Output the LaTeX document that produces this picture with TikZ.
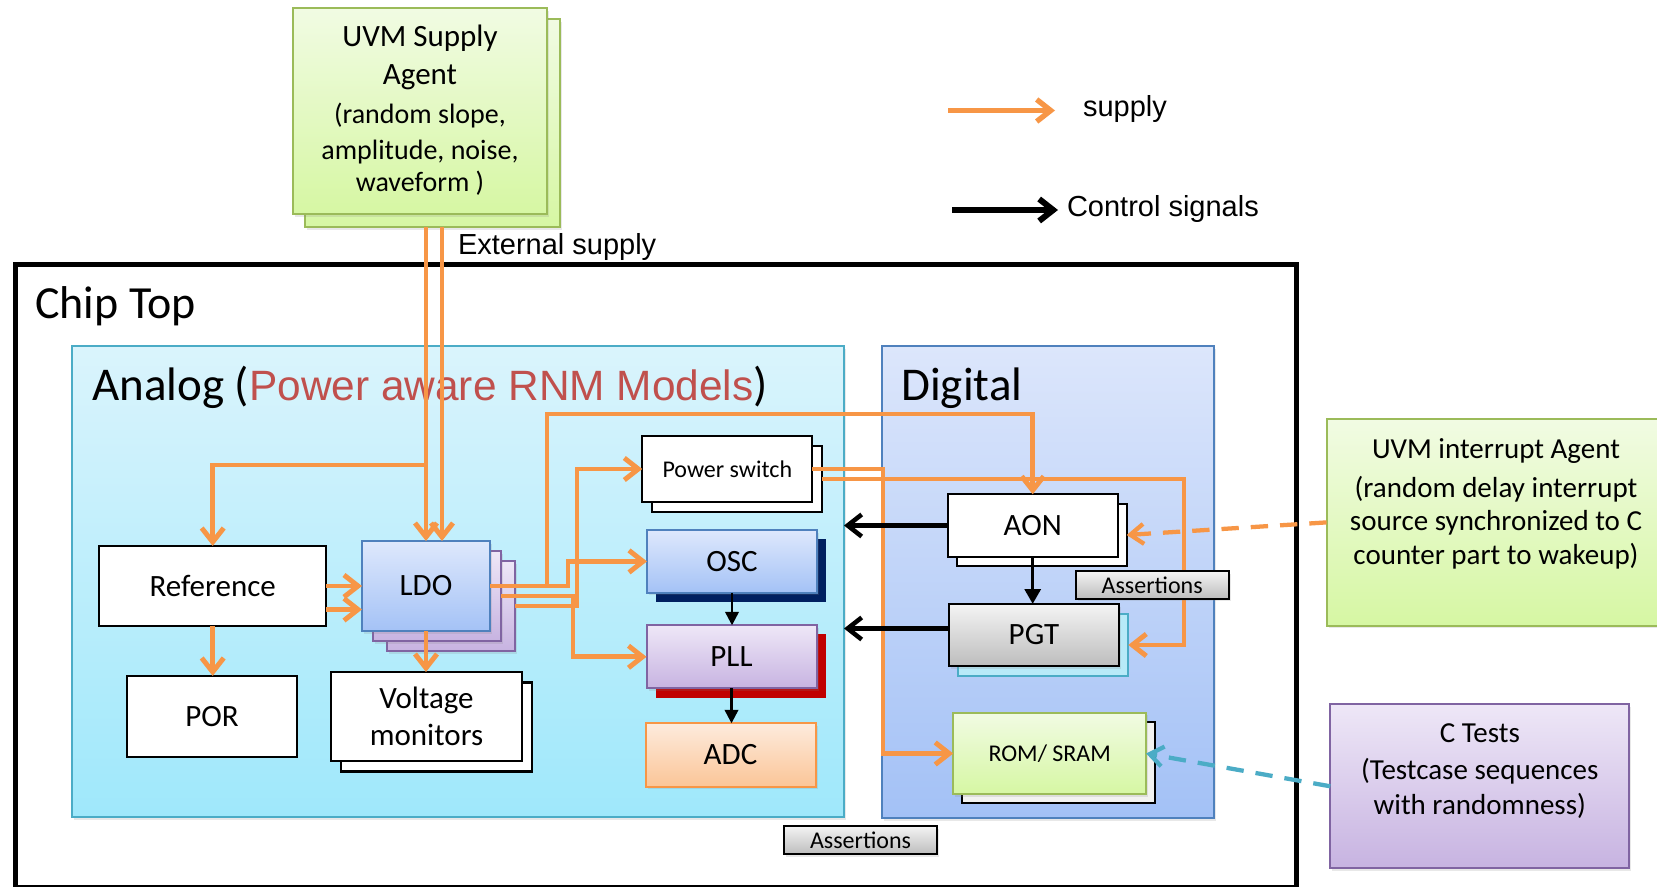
\documentclass[tikz,border=0pt]{standalone}
\usepackage{fontspec}
\setmainfont{Carlito}
\newfontfamily\arialfont{Liberation Sans}
\usetikzlibrary{arrows.meta,calc,shadows}

\definecolor{sorange}{HTML}{F79646}
\definecolor{rnmred}{HTML}{C0504D}
\definecolor{tealline}{HTML}{4BACC6}
\definecolor{blueline}{HTML}{4F81BD}
\definecolor{purpline}{HTML}{8064A2}
\definecolor{greenline}{HTML}{9BBB59}
\definecolor{anatop}{HTML}{DAF4FC}
\definecolor{anabot}{HTML}{9FE8FB}
\definecolor{digtop}{HTML}{DCE6FB}
\definecolor{digbot}{HTML}{A3C1F6}
\definecolor{bluetop}{HTML}{DEE8FC}
\definecolor{bluebot}{HTML}{A4C2F6}
\definecolor{lavtop}{HTML}{EEE7F7}
\definecolor{lavbot}{HTML}{C7B3E1}
\definecolor{peachtop}{HTML}{FDEBDD}
\definecolor{peachbot}{HTML}{FBC597}
\definecolor{greentop}{HTML}{F1FBE3}
\definecolor{greenbot}{HTML}{D6F7A3}
\definecolor{graytop}{HTML}{F4F4F4}
\definecolor{graybot}{HTML}{BDBDBD}
\definecolor{navyshadow}{HTML}{002060}
\definecolor{redshadow}{HTML}{C00000}
\definecolor{pgtback}{HTML}{B8EAF8}
\definecolor{romback}{HTML}{F2F2F0}

\tikzset{
  px/.style 2 args={minimum width=#1*0.75pt, minimum height=#2*0.75pt},
  soft/.style={drop shadow={opacity=0.18, shadow xshift=1.5pt, shadow yshift=-2pt}},
  blk/.style={draw, inner sep=0pt, outer sep=0pt, line width=1.6pt, align=center,
              font=\fontsize{23.25}{28}\selectfont},
  smallfont/.style={font=\fontsize{18}{22}\selectfont},
  wbox/.style={blk, fill=white},
  bluebox/.style={blk, draw=blueline, line width=1.5pt, top color=bluetop, bottom color=bluebot, soft},
  lavbox/.style={blk, draw=purpline, line width=1.5pt, top color=lavtop, bottom color=lavbot, soft},
  peachbox/.style={blk, draw=sorange, line width=1.5pt, top color=peachtop, bottom color=peachbot, soft},
  greenbox/.style={blk, draw=greenline, line width=1.5pt, top color=greentop, bottom color=greenbot, soft},
  graybox/.style={blk, draw=black, top color=graytop, bottom color=graybot, soft},
  shadowbox/.style={inner sep=0pt, outer sep=0pt},
  txt/.style={inner sep=0pt, outer sep=0pt, anchor=base},
  agtitle/.style={txt, font=\fontsize{23.25}{28}\selectfont},
  agbody/.style={txt, font=\fontsize{21}{26}\selectfont},
  agtext/.style={txt, font=\fontsize{21.75}{26}\selectfont},
  arialtext/.style={inner sep=0pt, outer sep=0pt, anchor=base west,
              font=\arialfont\fontsize{21.75}{26}\selectfont},
  supplyarrow/.style={draw=sorange, line width=3.7pt, line join=miter,
              -{Straight Barb[length=10.5pt,width=16.5pt]}},
  ctrlarrow/.style={draw=black, line width=3.4pt,
              -{Straight Barb[length=10.5pt,width=16.5pt]}},
  thinctrl/.style={draw=black, line width=1.8pt, -{Triangle[length=10pt,width=10pt]}},
  irqarrow/.style={draw=sorange, line width=3.2pt, dash pattern=on 13pt off 9pt,
              -{Straight Barb[length=10pt,width=15pt]}},
  testarrow/.style={draw=tealline, line width=3.2pt, dash pattern=on 13pt off 9pt,
              -{Straight Barb[length=10pt,width=15pt]}},
}

\begin{document}
\begin{tikzpicture}[x=0.75pt,y=-0.75pt]
\useasboundingbox (0,0) rectangle (1657,887);
\clip (0,0) rectangle (1657,887);
\fill[white] (0,0) rectangle (1657,887);

% ---------- UVM supply agent ----------
\node[greenbox, px={255}{208}] (supb) at (432,123) {};
\node[greenbox, px={254}{206}] (sup) at (420,111) {};
\node[agtitle] (supT1) at (420,46.7) {UVM Supply};
\node[agtitle] (supT2) at (420,84.3) {Agent};
\node[agbody] (supT3) at (420,124) {(random slope,};
\node[agbody] (supT4) at (420,159.3) {amplitude, noise,};
\node[agbody] (supT5) at (420,191.7) {waveform )};
\node[arialtext] (extlbl) at (458,255) {External supply};

% ---------- legend ----------
\coordinate (lgsA) at (948,110.5);
\coordinate (lgsB) at (1055,110.5);
\draw[supplyarrow, line width=4pt] (lgsA) -- (lgsB);
\node[arialtext] (lgsT) at (1083,116.7) {supply};
\coordinate (lgcA) at (952,210);
\coordinate (lgcB) at (1058,210);
\draw[ctrlarrow, line width=4.5pt] (lgcA) -- (lgcB);
\node[arialtext] (lgcT) at (1067,216.7) {Control signals};

% ---------- chip frame and domains ----------
\node[draw, line width=3.75pt, inner sep=0pt, outer sep=0pt, px={1280.5}{622.5}] (chip) at (655.75,576.25) {};
\node[inner sep=0pt, anchor=base west, font=\fontsize{34.5}{40}\selectfont] (chipT) at (35,318.3) {Chip Top};

\node[draw=tealline, line width=1.6pt, top color=anatop, bottom color=anabot, inner sep=0pt, outer sep=0pt,
      px={772}{471}, soft] (analog) at (458,581.5) {};
\node[draw=blueline, line width=1.6pt, top color=digtop, bottom color=digbot, inner sep=0pt, outer sep=0pt,
      px={332}{472}, soft] (digital) at (1048,582) {};
\node[inner sep=0pt, anchor=base west, font=\fontsize{35.25}{40}\selectfont] (anaT) at (92,401)
  {Analog (\textcolor{rnmred}{\arialfont\fontsize{31.8}{36}\selectfont Power aware RNM Models})};
\node[inner sep=0pt, anchor=base west, font=\fontsize{35.25}{40}\selectfont] (digT) at (901,401) {Digital};

% ---------- analog blocks ----------
\node[wbox, px={227}{80}] (ref) at (212.7,586) {Reference};
\node[wbox, px={170}{80.7}] (por) at (212,716.3) {POR};
\node[lavbox, px={128}{90}] (ldob2) at (451,606) {};
\node[lavbox, px={128}{90}] (ldob1) at (437,596) {};
\node[bluebox, px={128}{90}] (ldo) at (426,586) {LDO};
\node[wbox, px={191}{89}] (vmb) at (436.5,727) {};
\node[wbox, px={191}{89}] (vm) at (426.5,716.5) {Voltage\\monitors};
\node[wbox, px={170}{66.6}] (psb) at (736.7,479) {};
\node[wbox, smallfont, px={170}{66.6}] (ps) at (727.3,469) {Power switch};
\node[shadowbox, fill=navyshadow, px={170}{63}] (oscs) at (741,570.5) {};
\node[bluebox, px={170}{62.7}] (osc) at (732,561.4) {OSC};
\node[shadowbox, fill=redshadow, px={170}{63}] (plls) at (740.5,666) {};
\node[lavbox, px={170}{63}] (pll) at (731.5,656.8) {PLL};
\node[peachbox, px={170}{63.4}] (adc) at (730.5,755) {ADC};

% ---------- digital blocks ----------
\node[wbox, px={170}{62.4}] (aonb) at (1041.7,535) {};
\node[wbox, px={170}{62.4}] (aon) at (1032.7,525.5) {AON};
\node[blk, draw=tealline, fill=pgtback, px={170}{62.3}] (pgtb) at (1043.3,645) {};
\node[graybox, px={170}{62.3}] (pgt) at (1034,635) {PGT};
\node[blk, fill=romback, px={193}{81.6}] (romb) at (1058.7,762.5) {};
\node[greenbox, smallfont, px={193}{81.6}] (rom) at (1049.7,753.5) {ROM/ SRAM};

% ---------- testbench agents ----------
\node[greenbox, px={339.4}{206.7}] (irq) at (1496.3,522.4) {};
\node[agtext] (irqT1) at (1496,458.3) {UVM interrupt Agent};
\node[agtext] (irqT2) at (1496,497.7) {(random delay interrupt};
\node[agtext] (irqT3) at (1496,531) {source synchronized to C};
\node[agtext] (irqT4) at (1496,565) {counter part to wakeup)};
\node[lavbox, px={299}{164}] (ctest) at (1479.8,786.3) {};
\node[agtext] (ctT1) at (1479.8,742.3) {C Tests};
\node[agtext] (ctT2) at (1479.8,779.3) {(Testcase sequences};
\node[agtext] (ctT3) at (1479.8,814.3) {with randomness)};

% ---------- supply connections ----------
\coordinate (extA) at (supb.south -| ldo.north);
\coordinate (extB) at ($(extA)+(16,0)$);
\draw[supplyarrow] (extA) -- (ldo.north);
\draw[supplyarrow] (extB) -- (extB |- ldo.north);
\draw[supplyarrow] (extA |- 0,465) -| (ref.north);
\draw[supplyarrow] (ref.east) -- (ldo.west);
\draw[supplyarrow] ($(ref.east)+(0,23.5)$) -- ($(ldo.west)+(0,23.5)$);
\draw[supplyarrow] (ref.south) -- (ref.south |- por.north);
\draw[supplyarrow] (ldo.south) -- (ldo.south |- vm.north);

\coordinate (ldoJ) at ($(ldo.east)+(57,0)$);
\draw[supplyarrow] (ldo.east) -- (ldoJ) |- (aon.north |- 0,414) -- (aon.north);
\draw[supplyarrow] (ldoJ) -- ++(21,0) |- (osc.west);
\draw[supplyarrow] (ldob1.east) -- ++(72,0) |- (pll.west);
\draw[supplyarrow] (ldob2.east) -- ++(62,0) |- (ps.west);
\draw[supplyarrow] (ps.east) -- ++(70.7,0) |- (rom.west);
\draw[supplyarrow] (psb.east) -- ++(362.3,0) |- (pgtb.east);

% ---------- control connections ----------
\draw[ctrlarrow] (aon.west) -- (analog.east |- aon.west);
\coordinate (pgtOut) at ($(pgt.west)+(0,-6.5)$);
\draw[ctrlarrow] (pgtOut) -- (analog.east |- pgtOut);
\draw[thinctrl] (osc.south) -- (osc.south |- pll.north);
\draw[thinctrl] (pll.south) -- (pll.south |- adc.north);
\draw[thinctrl, line width=2pt, -{Triangle[length=11pt,width=12pt]}] (aon.south) -- (aon.south |- pgt.north);

% ---------- testbench stimulus ----------
\draw[irqarrow] (irq.west) -- (aonb.east);
\draw[testarrow] (ctest.west) -- (rom.east);

% ---------- assertion checkers ----------
\node[graybox, smallfont, px={153}{27.7}] (asrtD) at (1152.2,584.8) {Assertions};
\node[graybox, smallfont, px={153}{28.3}] (asrtA) at (860.5,840) {Assertions};

\end{tikzpicture}
\end{document}
